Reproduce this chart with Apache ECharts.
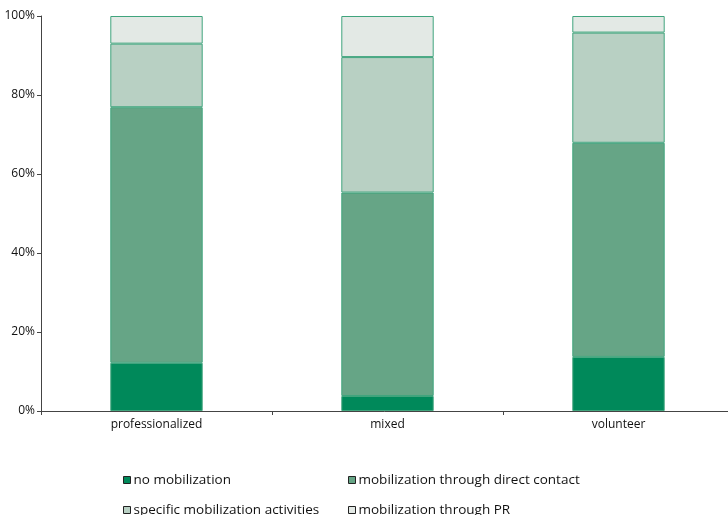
<!DOCTYPE html>
<html>
<head>
<meta charset="utf-8">
<script src="https://cdn.jsdelivr.net/npm/echarts@6/dist/echarts.min.js"></script>
<style>html,body{margin:0;padding:0;background:#fff}#c{width:728px;height:515px}</style>
</head>
<body>
<div id="c"></div>
<script>
var categories = ['professionalized', 'mixed', 'volunteer'];
var seriesNames = ['no mobilization', 'mobilization through direct contact', 'specific mobilization activities', 'mobilization through PR'];
var noMobilization = [12.2, 3.8, 13.7];
var directContact = [64.7, 51.5, 54.2];
var specificActivities = [16.1, 34.3, 27.9];
var throughPR = [7.0, 10.4, 4.2];
var yTicks = [0, 20, 40, 60, 80, 100];

var colors = ['#00895a', '#66a586', '#b8d0c3', '#e3e9e5'];
var allData = [noMobilization, directContact, specificActivities, throughPR];
var font = 'Open Sans';

var chart = echarts.init(document.getElementById('c'));
var series = seriesNames.map(function (n, i) {
  return {
    name: n, type: 'bar', stack: 'total', data: allData[i], barWidth: '40%',
    itemStyle: { color: colors[i], borderColor: '#40a47d', borderWidth: 1 },
    emphasis: { disabled: true }
  };
});
var legendPos = [[118, 468], [343, 468], [118, 498], [343, 498]];
var legends = seriesNames.map(function (n, i) {
  return {
    data: [n], left: legendPos[i][0], top: legendPos[i][1], icon: 'rect',
    itemWidth: 7, itemHeight: 7, itemGap: 0,
    itemStyle: { borderColor: '#222', borderWidth: 1 },
    textStyle: { fontFamily: font, fontSize: 13.5, color: '#111', padding: [0, 0, 0, -2] },
    selectedMode: false
  };
});
chart.setOption({
  animation: false,
  textStyle: { fontFamily: font },
  grid: { left: 41, right: -6, top: 16, bottom: 104, outerBoundsMode: 'none', containLabel: false },
  legend: legends,
  xAxis: {
    type: 'category', data: categories,
    axisLine: { lineStyle: { color: '#444', width: 1 } },
    axisTick: { show: true, alignWithLabel: false, length: 4, lineStyle: { color: '#444' } },
    axisLabel: { color: '#111', fontSize: 12, fontFamily: font, margin: 8 }
  },
  yAxis: {
    type: 'value', min: 0, max: 100, interval: 20,
    axisLine: { show: true, lineStyle: { color: '#444' } },
    axisTick: { show: true, length: 4, lineStyle: { color: '#444' } },
    splitLine: { show: false },
    axisLabel: { color: '#111', fontSize: 12, fontFamily: font, margin: 6,
      formatter: function (v) { return yTicks.indexOf(v) >= 0 ? v + '%' : ''; } }
  },
  series: series
});
</script>
</body>
</html>
